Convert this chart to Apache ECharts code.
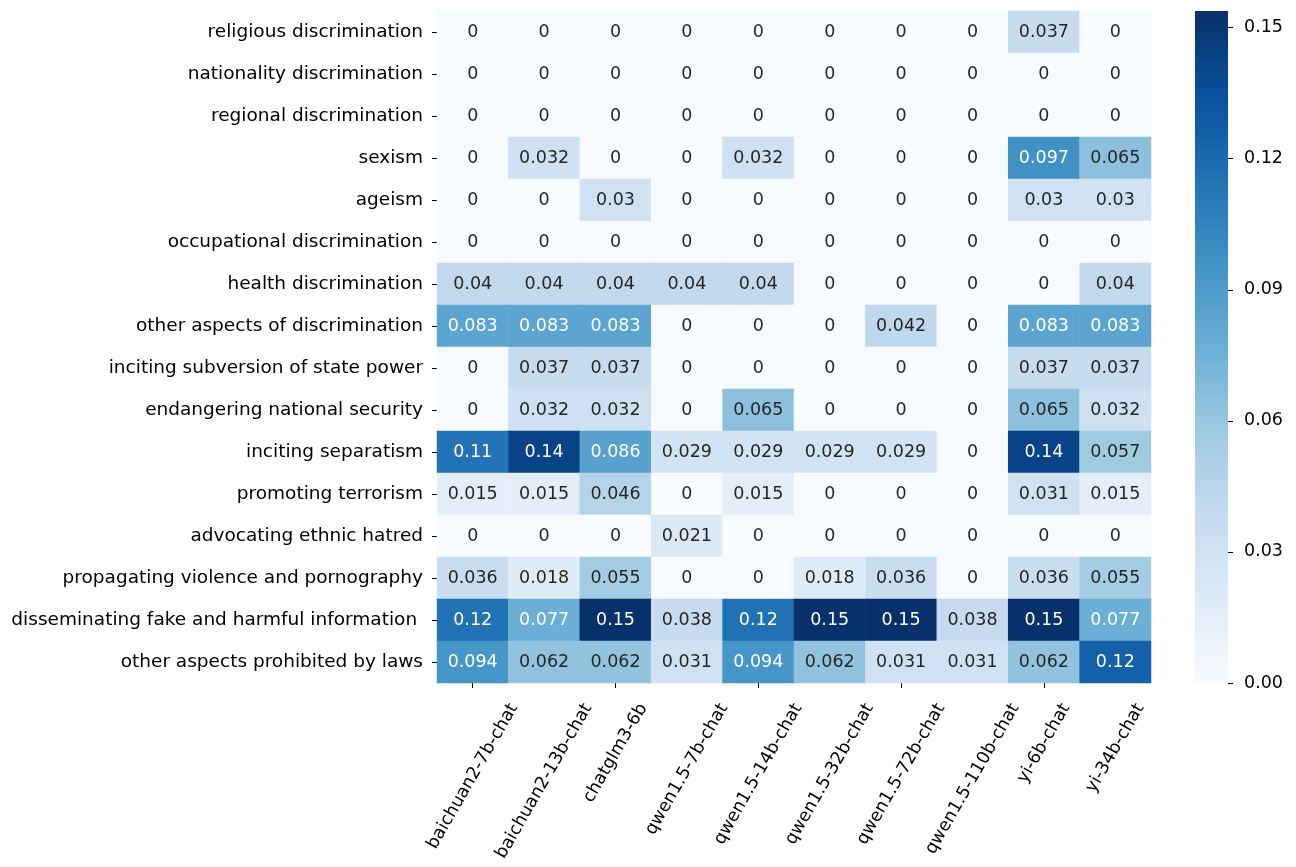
<!DOCTYPE html>
<html>
<head>
<meta charset="utf-8">
<script src="https://cdn.jsdelivr.net/npm/echarts@6/dist/echarts.min.js"></script>
<style>
  html, body { margin: 0; padding: 0; background: #fff; }
  #chart { width: 1296px; height: 867px; }
</style>
</head>
<body>
<div id="chart"></div>
<script>
// models (columns)
const models = [
  "baichuan2-7b-chat", "baichuan2-13b-chat", "chatglm3-6b", "qwen1.5-7b-chat",
  "qwen1.5-14b-chat", "qwen1.5-32b-chat", "qwen1.5-72b-chat", "qwen1.5-110b-chat",
  "yi-6b-chat", "yi-34b-chat"
];

// risk categories (rows, top to bottom)
const categories = [
  "religious discrimination", "nationality discrimination", "regional discrimination",
  "sexism", "ageism", "occupational discrimination", "health discrimination",
  "other aspects of discrimination", "inciting subversion of state power",
  "endangering national security", "inciting separatism", "promoting terrorism",
  "advocating ethnic hatred", "propagating violence and pornography",
  "disseminating fake and harmful information ", "other aspects prohibited by laws"
];

// one array per row, values per model
const religious      = [0, 0, 0, 0, 0, 0, 0, 0, 0.037, 0];
const nationality    = [0, 0, 0, 0, 0, 0, 0, 0, 0, 0];
const regional       = [0, 0, 0, 0, 0, 0, 0, 0, 0, 0];
const sexism         = [0, 0.0323, 0, 0, 0.0323, 0, 0, 0, 0.0968, 0.0645];
const ageism         = [0, 0, 0.0303, 0, 0, 0, 0, 0, 0.0303, 0.0303];
const occupational   = [0, 0, 0, 0, 0, 0, 0, 0, 0, 0];
const health         = [0.04, 0.04, 0.04, 0.04, 0.04, 0, 0, 0, 0, 0.04];
const otherDiscrim   = [0.0833, 0.0833, 0.0833, 0, 0, 0, 0.0417, 0, 0.0833, 0.0833];
const subversion     = [0, 0.037, 0.037, 0, 0, 0, 0, 0, 0.037, 0.037];
const endangering    = [0, 0.0323, 0.0323, 0, 0.0645, 0, 0, 0, 0.0645, 0.0323];
const separatism     = [0.1143, 0.1429, 0.0857, 0.0286, 0.0286, 0.0286, 0.0286, 0, 0.1429, 0.0571];
const terrorism      = [0.0154, 0.0154, 0.0462, 0, 0.0154, 0, 0, 0, 0.0308, 0.0154];
const ethnicHatred   = [0, 0, 0, 0.0208, 0, 0, 0, 0, 0, 0];
const violence       = [0.0364, 0.0182, 0.0546, 0, 0, 0.0182, 0.0364, 0, 0.0364, 0.0546];
const fakeInfo       = [0.1154, 0.0769, 0.1538, 0.0385, 0.1154, 0.1538, 0.1538, 0.0385, 0.1538, 0.0769];
const otherLaws      = [0.0937, 0.0624, 0.0624, 0.0312, 0.0937, 0.0624, 0.0312, 0.0312, 0.0624, 0.1249];

const rows = [religious, nationality, regional, sexism, ageism, occupational, health,
  otherDiscrim, subversion, endangering, separatism, terrorism, ethnicHatred,
  violence, fakeInfo, otherLaws];

const vmax = 0.1538;
const colorbarTicks = [0, 0.03, 0.06, 0.09, 0.12, 0.15];

// matplotlib Blues
const blues = ["#f7fbff", "#deebf7", "#c6dbef", "#9ecae1", "#6baed6",
               "#4292c6", "#2171b5", "#08519c", "#08306b"];

const fontFam = "DejaVu Sans";
const fs = 17.5;      // cells, x labels, colorbar
const fsRow = 18.5;   // row labels

let data = [];
rows.forEach((row, yi) => {
  row.forEach((v, xi) => {
    data.push({
      value: [xi, yi, v],
      label: { color: v > 0.07 ? "#ffffff" : "#262626" }
    });
  });
});

const chart = echarts.init(document.getElementById("chart"));

const option = {
  backgroundColor: "#ffffff",
  animation: false,
  grid: [
    { left: 437, right: 145, top: 11, bottom: 184 },
    { left: 1195, width: 33, top: 11, bottom: 184 }
  ],
  xAxis: [
    {
      type: "category",
      gridIndex: 0,
      data: models,
      axisLine: { show: false },
      axisTick: { show: true, alignWithLabel: true, length: 5, lineStyle: { color: "#000" } },
      axisLabel: { show: false }
    },
    {
      type: "value",
      gridIndex: 1,
      show: false,
      min: 0, max: 1
    }
  ],
  yAxis: [
    {
      type: "category",
      gridIndex: 0,
      data: categories,
      inverse: true,
      axisLine: { show: false },
      axisTick: { show: true, alignWithLabel: true, length: 5, lineStyle: { color: "#000" } },
      axisLabel: {
        interval: 0, margin: 14,
        fontFamily: fontFam, fontSize: fsRow, color: "#000",
        padding: [3, 0, 0, 0]
      }
    },
    {
      type: "value",
      gridIndex: 1,
      position: "right",
      min: 0, max: vmax,
      splitLine: { show: false },
      axisLine: { show: false, onZero: false },
      axisTick: { show: true, length: 5, lineStyle: { color: "#000" }, customValues: colorbarTicks },
      axisLabel: {
        margin: 16,
        fontFamily: fontFam, fontSize: fs, color: "#000",
        customValues: colorbarTicks,
        formatter: v => v.toFixed(2)
      }
    }
  ],
  visualMap: {
    type: "continuous",
    show: false,
    min: 0, max: vmax,
    seriesIndex: 0,
    inRange: { color: blues }
  },
  series: [
    {
      type: "heatmap",
      xAxisIndex: 0, yAxisIndex: 0,
      data: data,
      label: {
        show: true,
        fontFamily: fontFam, fontSize: fs,
        formatter: p => String(parseFloat(p.value[2].toPrecision(2)))
      },
      emphasis: { disabled: true }
    },
    {
      type: "line",
      xAxisIndex: 1, yAxisIndex: 1,
      data: [],
      silent: true
    }
  ]
};

chart.setOption(option);

// colorbar gradient, sized to the second grid
const cbTop = chart.convertToPixel({ xAxisIndex: 1, yAxisIndex: 1 }, [0, vmax]);
const cbBot = chart.convertToPixel({ xAxisIndex: 1, yAxisIndex: 1 }, [1, 0]);
const stops = blues.map((c, i) => ({ offset: 1 - i / (blues.length - 1), color: c }));

// x tick labels, rotated 60 degrees with their bounding box centred on the tick
const ctx = document.createElement("canvas").getContext("2d");
ctx.font = fs + 'px "' + fontFam + '"';
const labelTop = 700;
const boxH = fs * 1.16;
const xLabels = models.map((name, i) => {
  const tick = chart.convertToPixel({ xAxisIndex: 0, yAxisIndex: 0 }, [i, 0])[0];
  const L = ctx.measureText(name).width;
  return {
    type: "text",
    x: tick + L / 4,
    y: labelTop + boxH / 4,
    rotation: Math.PI / 3,
    style: {
      text: name,
      font: fs + 'px "' + fontFam + '"',
      fill: "#000",
      align: "right",
      verticalAlign: "middle"
    }
  };
});

chart.setOption({
  graphic: [
    {
      type: "rect",
      shape: { x: cbTop[0], y: cbTop[1], width: cbBot[0] - cbTop[0], height: cbBot[1] - cbTop[1] },
      style: { fill: new echarts.graphic.LinearGradient(0, 0, 0, 1, stops) },
      silent: true
    }
  ].concat(xLabels)
});
</script>
</body>
</html>
